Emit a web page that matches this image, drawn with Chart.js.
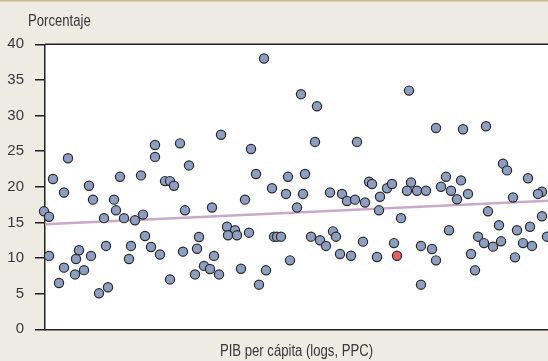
<!DOCTYPE html>
<html>
<head>
<meta charset="utf-8">
<script src="https://cdn.jsdelivr.net/npm/chart.js@4/dist/chart.umd.min.js"></script>
<style>
  html, body { margin: 0; padding: 0; background: #eeebe3; }
  #wrap { width: 548px; height: 361px; }
</style>
</head>
<body>
<div id="wrap"><canvas id="c" width="548" height="361"></canvas></div>
<script>
// GDP per capita (log, PPP) and share (%) for each country
const logGdp = [
  6.49, 6.54, 6.58, 6.73, 6.69, 6.54, 6.64, 6.69, 6.84, 6.81,
  6.80, 6.89, 6.96, 6.94, 6.98, 7.04, 7.13, 7.11, 7.09, 7.19,
  7.21, 7.25, 7.29, 7.34, 7.36, 7.40, 7.48, 7.46, 7.50, 7.56,
  7.60, 7.65, 7.70, 7.75, 7.79, 7.75, 7.88, 7.90, 7.94, 8.00,
  8.02, 8.04, 7.60, 7.85, 8.26, 8.69, 9.06, 9.22, 8.56, 9.20,
  9.62, 8.61, 8.93, 9.10, 9.74, 9.77, 8.77, 8.17, 8.50, 8.91,
  9.08, 9.02, 9.35, 9.47, 9.52, 9.60, 9.70, 9.85, 9.84, 8.19,
  8.09, 8.15, 8.24, 8.32, 8.40, 8.33, 8.42, 8.54, 8.46, 8.64,
  8.71, 8.79, 8.82, 8.86, 8.95, 9.16, 9.25, 9.31, 9.38, 9.41,
  9.45, 9.56, 9.68, 9.82, 10.14, 10.41, 10.68, 10.91, 11.08, 11.12,
  11.33, 9.92, 9.97, 10.16, 10.51, 10.66, 10.46, 11.47, 10.12, 10.22,
  10.31, 10.56, 10.62, 10.73, 11.18, 11.43, 10.06, 10.93, 11.47, 11.04,
  10.54, 11.22, 11.35, 11.52, 10.83, 10.89, 10.98, 11.06, 11.28, 11.37,
  9.99, 10.26, 10.37, 10.41, 10.76, 11.20, 10.80, 10.26
];
const share = [
  16.56, 15.8, 21.1, 24.0, 19.2, 10.3, 6.5, 8.65, 11.1, 9.87,
  7.7, 8.3, 10.3, 20.15, 18.2, 5.05, 5.9, 11.7, 15.6, 18.2,
  16.7, 21.4, 15.6, 9.87, 11.7, 15.3, 16.1, 21.6, 13.1, 11.55,
  24.2, 10.5, 20.8, 20.8, 20.15, 7.0, 10.9, 16.7, 23.0, 7.7,
  11.3, 12.95, 25.87, 26.1, 27.3, 38.0, 33.0, 31.3, 25.3, 26.3,
  26.3, 21.8, 21.4, 21.8, 20.7, 20.4, 19.8, 17.1, 18.2, 19.0,
  19.0, 17.1, 19.2, 19.0, 18.0, 18.2, 17.8, 18.6, 16.7, 10.3,
  8.9, 8.46, 7.7, 14.4, 13.9, 13.2, 13.2, 13.56, 8.5, 6.26,
  8.28, 13.0, 13.0, 13.0, 9.68, 13.0, 12.5, 11.7, 13.75, 13.0,
  10.57, 10.33, 12.3, 10.15, 33.5, 28.25, 28.07, 28.5, 23.25, 22.3,
  21.2, 19.8, 20.4, 20.6, 21.4, 20.9, 20.0, 19.3, 19.45, 19.45,
  19.45, 19.45, 18.25, 19.0, 18.5, 19.0, 15.6, 16.56, 15.86, 14.6,
  13.9, 13.9, 14.4, 13.0, 13.0, 12.1, 11.6, 12.35, 12.1, 11.7,
  12.1, 11.7, 11.27, 9.68, 10.57, 10.1, 8.28, 6.26
];
// highlighted country
const highlightGdp = [10.02];
const highlightShare = [10.33];
// fitted trend line
const trendGdp = [6.5, 11.53];
const trendShare = [14.74, 18.05];
// axis
const yTicks = [0, 5, 10, 15, 20, 25, 30, 35, 40];
const xTitle = 'PIB per cápita (logs, PPC)';
const yTitle = 'Porcentaje';

const toPoints = (xs, ys) => xs.map((x, i) => ({ x: x, y: ys[i] }));

const FONT = "'Liberation Sans', Arial, sans-serif";
const TEXT = '#383838';
const AXIS = '#222222';

// draws a condensed label (horizontally squeezed sans)
function narrowText(ctx, text, x, y, align) {
  const squeeze = 0.82;
  ctx.save();
  ctx.font = '16px ' + FONT;
  ctx.fillStyle = TEXT;
  ctx.textBaseline = 'alphabetic';
  ctx.textAlign = align;
  ctx.translate(x, y);
  ctx.scale(squeeze, 1);
  ctx.fillText(text, 0, 0);
  ctx.restore();
}

const frame = {
  id: 'frame',
  beforeDraw(chart) {
    const { ctx, chartArea: a, width } = chart;
    ctx.save();
    ctx.fillStyle = '#eeebe3';
    ctx.fillRect(0, 0, width, chart.height);
    ctx.fillStyle = '#c9bb92';
    ctx.fillRect(0, 0, width, 1.5);
    ctx.fillStyle = '#ffffff';
    ctx.fillRect(a.left, a.top, a.right - a.left, a.bottom - a.top);
    ctx.restore();
  },
  afterDraw(chart) {
    const { ctx, chartArea: a } = chart;
    ctx.save();
    ctx.strokeStyle = AXIS;
    ctx.lineWidth = 1.5;
    ctx.beginPath();
    ctx.moveTo(a.left, a.top);
    ctx.lineTo(a.right, a.top);
    ctx.stroke();
    ctx.restore();
    narrowText(ctx, yTitle, 28, 26, 'left');
    narrowText(ctx, xTitle, (a.left + a.right) / 2, 355.5, 'center');
  }
};

new Chart(document.getElementById('c'), {
  type: 'scatter',
  data: {
    datasets: [
      {
        data: toPoints(highlightGdp, highlightShare),
        backgroundColor: '#e46262',
        borderColor: '#2a2a2a',
        borderWidth: 1.2,
        pointRadius: 4.6,
        clip: false
      },
      {
        data: toPoints(logGdp, share),
        backgroundColor: '#8d9ec1',
        borderColor: '#2a2a2a',
        borderWidth: 1.2,
        pointRadius: 4.6,
        clip: false
      },
      {
        type: 'line',
        data: toPoints(trendGdp, trendShare),
        borderColor: '#c9a9c8',
        borderWidth: 2.5,
        pointRadius: 0,
        fill: false
      }
    ]
  },
  options: {
    responsive: false,
    animation: false,
    events: [],
    layout: { autoPadding: false, padding: { top: 44.3, left: 0, right: 0, bottom: 0 } },
    plugins: {
      legend: { display: false },
      tooltip: { enabled: false },
      title: { display: false }
    },
    scales: {
      x: {
        type: 'linear',
        min: 6.5,
        max: 11.53,
        grid: { display: false },
        border: { display: true, color: AXIS, width: 1.5 },
        ticks: { display: false },
        title: { display: false, text: xTitle },
        afterFit(s) { s.height = 31.7; }
      },
      y: {
        min: 0,
        max: 40,
        afterBuildTicks(s) { s.ticks = yTicks.map(v => ({ value: v })); },
        grid: {
          drawOnChartArea: false,
          drawTicks: true,
          tickLength: 10,
          color: AXIS,
          lineWidth: 1.5
        },
        border: { display: true, color: AXIS, width: 1.5 },
        ticks: {
          color: TEXT,
          padding: 11,
          font: { family: FONT, size: 15 }
        },
        afterFit(s) { s.width = 45; }
      }
    }
  },
  plugins: [frame]
});
</script>
</body>
</html>
